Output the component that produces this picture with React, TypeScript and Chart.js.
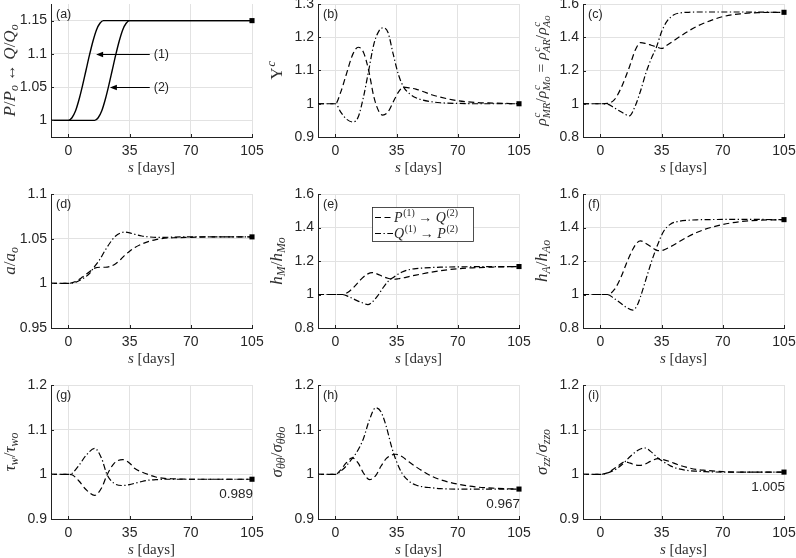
import React, { useEffect, useRef } from 'react';
import { Chart, registerables } from 'chart.js';
Chart.register(...registerables);

// ---------------- data ----------------
const xTicks = [0, 35, 70, 105];

// (a) load histories
const aDays1 = [-10, 0, 2, 4, 6, 8, 10, 12, 14, 16, 18, 20, 105];
const aLoad1 = [1, 1, 1.004, 1.014, 1.031, 1.052, 1.075, 1.098, 1.119, 1.136, 1.146, 1.15, 1.15];
const aDays2 = [-10, 15, 17, 19, 21, 23, 25, 27, 29, 31, 33, 35, 105];
const aLoad2 = [1, 1, 1.004, 1.014, 1.031, 1.052, 1.075, 1.098, 1.119, 1.136, 1.146, 1.15, 1.15];
const aArrowTip = [15.8, 23.7];
const aArrowVal = [1.1, 1.05];
const aArrowTail = 46.5;
const aArrowText = ['(1)', '(2)'];

// (b)
const bDays = [-10, 0, 3, 6, 10, 13, 16, 19, 22, 25, 27, 30, 33, 36, 39, 42, 46, 50, 55, 60, 70, 80, 90, 105];
const bPQ = [1, 1, 1.035, 1.085, 1.15, 1.17, 1.155, 1.1, 1.02, 0.975, 0.966, 0.975, 1.005, 1.035, 1.05, 1.048, 1.044, 1.037, 1.027, 1.02, 1.009, 1.004, 1.002, 1];
const bQP = [1, 1, 0.975, 0.955, 0.945, 0.96, 1.02, 1.1, 1.18, 1.22, 1.228, 1.215, 1.15, 1.088, 1.05, 1.032, 1.018, 1.011, 1.006, 1.003, 1.001, 1, 1, 1];

// (c)
const cDays = [-10, 0, 4, 8, 12, 16.5, 20, 23, 26, 29, 32, 35, 38, 42, 46, 50, 55, 60, 70, 80, 90, 105];
const cPQ = [1, 1, 1.002, 1.025, 1.1, 1.22, 1.325, 1.368, 1.362, 1.352, 1.342, 1.333, 1.352, 1.38, 1.408, 1.435, 1.465, 1.488, 1.524, 1.541, 1.548, 1.55];
const cQP = [1, 1, 0.998, 0.975, 0.95, 0.927, 0.99, 1.08, 1.185, 1.27, 1.34, 1.434, 1.495, 1.535, 1.547, 1.55, 1.552, 1.552, 1.552, 1.552, 1.551, 1.55];

// (d)
const dDays = [-10, 0, 4, 8, 12, 15, 18, 21, 24, 27, 30, 32, 35, 38, 42, 46, 50, 55, 60, 70, 80, 90, 105];
const dPQ = [1, 1, 1.002, 1.007, 1.013, 1.017, 1.018, 1.018, 1.019, 1.022, 1.027, 1.031, 1.036, 1.04, 1.044, 1.047, 1.049, 1.0505, 1.051, 1.0515, 1.052, 1.052, 1.052];
const dQP = [1, 1, 1.001, 1.005, 1.011, 1.019, 1.027, 1.037, 1.046, 1.053, 1.0565, 1.0575, 1.0565, 1.0548, 1.053, 1.052, 1.0515, 1.0515, 1.0518, 1.052, 1.052, 1.052, 1.052];

// (e)
const eDays = [-10, 0, 4, 8, 12, 15, 18.5, 21, 24, 27, 30, 33.5, 36, 39, 42, 46, 50, 55, 60, 70, 80, 90, 105];
const ePQ = [1, 1, 1, 1.02, 1.06, 1.095, 1.123, 1.131, 1.122, 1.108, 1.097, 1.091, 1.094, 1.1, 1.107, 1.116, 1.124, 1.134, 1.142, 1.154, 1.16, 1.164, 1.167];
const eQP = [1, 1, 1, 0.985, 0.965, 0.952, 0.94, 0.955, 0.99, 1.037, 1.077, 1.105, 1.123, 1.138, 1.148, 1.155, 1.158, 1.161, 1.163, 1.165, 1.166, 1.167, 1.167];

// (f)
const fDays = [-10, 0, 4, 8, 12, 15, 18.5, 21, 23, 26, 29, 31, 33, 36, 40, 45, 50, 55, 60, 70, 80, 90, 105];
const fPQ = [1, 1, 1, 1.03, 1.11, 1.19, 1.27, 1.31, 1.32, 1.305, 1.285, 1.27, 1.262, 1.265, 1.285, 1.315, 1.345, 1.37, 1.39, 1.418, 1.435, 1.443, 1.447];
const fQP = [1, 1, 1, 0.975, 0.945, 0.922, 0.907, 0.935, 0.99, 1.09, 1.19, 1.25, 1.305, 1.375, 1.42, 1.437, 1.443, 1.446, 1.447, 1.448, 1.448, 1.448, 1.447];

// (g)
const gDays = [-10, 0, 2, 6, 10, 15, 19, 22, 26, 31, 35, 38, 42, 46, 50, 55, 60, 70, 80, 90, 105];
const gPQ = [1, 1, 0.999, 0.985, 0.966, 0.953, 0.97, 0.998, 1.024, 1.033, 1.025, 1.013, 1.005, 0.999, 0.994, 0.991, 0.99, 0.989, 0.989, 0.989, 0.989];
const gQP = [1, 1, 1.002, 1.02, 1.042, 1.058, 1.035, 1.0, 0.98, 0.975, 0.977, 0.98, 0.984, 0.987, 0.988, 0.989, 0.989, 0.989, 0.989, 0.989, 0.989];

// (h)
const hDays = [-10, 0, 3, 6, 9.5, 13, 16, 19.5, 23, 26, 29, 32, 34.5, 38, 42, 46, 50, 55, 60, 70, 80, 90, 105];
const hPQ = [1, 1, 1.01, 1.025, 1.037, 1.025, 1.003, 0.988, 0.997, 1.018, 1.035, 1.043, 1.045, 1.04, 1.028, 1.017, 1.007, 0.996, 0.988, 0.978, 0.972, 0.969, 0.967];
const hQP = [1, 1, 1.007, 1.018, 1.035, 1.055, 1.08, 1.123, 1.149, 1.14, 1.108, 1.063, 1.033, 1.003, 0.985, 0.976, 0.972, 0.97, 0.968, 0.967, 0.967, 0.967, 0.967];

// (i)
const iDays = [-10, 0, 3, 6, 9.5, 14, 17, 20, 22.5, 25.5, 28.5, 33, 36, 40, 44, 49, 55, 60, 70, 80, 90, 105];
const iPQ = [1, 1, 1.002, 1.008, 1.017, 1.028, 1.025, 1.021, 1.02, 1.023, 1.029, 1.035, 1.033, 1.028, 1.022, 1.016, 1.011, 1.009, 1.006, 1.005, 1.005, 1.005];
const iQP = [1, 1, 1.002, 1.006, 1.013, 1.028, 1.04, 1.05, 1.056, 1.059, 1.052, 1.036, 1.028, 1.019, 1.013, 1.009, 1.007, 1.006, 1.005, 1.005, 1.005, 1.005];

const endValues = [1.15, 1, 1.55, 1.052, 1.167, 1.447, 0.989, 0.967, 1.005];
const endTexts = ['', '', '', '', '', '', '0.989', '0.967', '1.005'];
const panelTags = ['(a)', '(b)', '(c)', '(d)', '(e)', '(f)', '(g)', '(h)', '(i)'];
const yRanges: [number, number][] = [
  [0.975, 1.175], [0.9, 1.3], [0.8, 1.6],
  [0.95, 1.1], [0.8, 1.6], [0.8, 1.6],
  [0.9, 1.2], [0.9, 1.2], [0.9, 1.2],
];
const yTickSets = [
  [1, 1.05, 1.1, 1.15], [0.9, 1, 1.1, 1.2, 1.3], [0.8, 1, 1.2, 1.4, 1.6],
  [0.95, 1, 1.05, 1.1], [0.8, 1, 1.2, 1.4, 1.6], [0.8, 1, 1.2, 1.4, 1.6],
  [0.9, 1, 1.1, 1.2], [0.9, 1, 1.1, 1.2], [0.9, 1, 1.1, 1.2],
];

// ---------------- rich text ----------------
type Seg = { t: string; it?: boolean; sub?: string; sup?: string };
const SERIF = '"Liberation Serif", "DejaVu Serif", serif';
const SANS = '"Liberation Sans", Arial, Helvetica, sans-serif';
const TXT = '#262626';
const LBL = '#303030';
const letterRe = /[A-Za-z\u0370-\u03ff]/;

const yTitles: Seg[][] = [
  [{ t: 'P', it: true }, { t: '/' }, { t: 'P', it: true, sub: 'o' }, { t: ' \u2194 ' }, { t: 'Q', it: true }, { t: '/' }, { t: 'Q', it: true, sub: 'o' }],
  [{ t: '\u03a5', sup: 'c' }],
  [{ t: '\u03c1', it: true, sup: 'c', sub: 'MR' }, { t: '/' }, { t: '\u03c1', it: true, sup: 'c', sub: 'Mo' }, { t: ' = ' }, { t: '\u03c1', it: true, sup: 'c', sub: 'AR' }, { t: '/' }, { t: '\u03c1', it: true, sup: 'c', sub: 'Ao' }],
  [{ t: 'a', it: true }, { t: '/' }, { t: 'a', it: true, sub: 'o' }],
  [{ t: 'h', it: true, sub: 'M' }, { t: '/' }, { t: 'h', it: true, sub: 'Mo' }],
  [{ t: 'h', it: true, sub: 'A' }, { t: '/' }, { t: 'h', it: true, sub: 'Ao' }],
  [{ t: '\u03c4', it: true, sub: 'w' }, { t: '/' }, { t: '\u03c4', it: true, sub: 'wo' }],
  [{ t: '\u03c3', it: true, sub: '\u03b8\u03b8' }, { t: '/' }, { t: '\u03c3', it: true, sub: '\u03b8\u03b8o' }],
  [{ t: '\u03c3', it: true, sub: 'zz' }, { t: '/' }, { t: '\u03c3', it: true, sub: 'zzo' }],
];
const xTitle: Seg[] = [{ t: 's', it: true }, { t: ' [days]' }];
const legendTexts: Seg[][] = [
  [{ t: 'P', it: true, sup: '(1)' }, { t: ' \u2192 ' }, { t: 'Q', it: true, sup: '(2)' }],
  [{ t: 'Q', it: true, sup: '(1)' }, { t: ' \u2192 ' }, { t: 'P', it: true, sup: '(2)' }],
];

function fnt(size: number, it?: boolean) {
  return `${it ? 'italic ' : ''}${size}px ${SERIF}`;
}
function richWidth(ctx: CanvasRenderingContext2D, segs: Seg[], size: number) {
  let w = 0;
  for (const s of segs) {
    ctx.font = fnt(size, s.it);
    w += ctx.measureText(s.t).width;
    let ex = 0;
    if (s.sub) { ctx.font = fnt(size * 0.7, letterRe.test(s.sub)); ex = Math.max(ex, ctx.measureText(s.sub).width); }
    if (s.sup) { ctx.font = fnt(size * 0.7, letterRe.test(s.sup)); ex = Math.max(ex, ctx.measureText(s.sup).width + size * 0.05); }
    w += ex;
  }
  return w;
}
function drawRich(ctx: CanvasRenderingContext2D, segs: Seg[], x0: number, base: number, size: number) {
  let x = x0;
  ctx.textBaseline = 'alphabetic';
  ctx.textAlign = 'left';
  for (const s of segs) {
    ctx.font = fnt(size, s.it);
    ctx.fillText(s.t, x, base);
    x += ctx.measureText(s.t).width;
    let ex = 0;
    if (s.sub) {
      ctx.font = fnt(size * 0.7, letterRe.test(s.sub));
      ctx.fillText(s.sub, x, base + size * 0.22);
      ex = Math.max(ex, ctx.measureText(s.sub).width);
    }
    if (s.sup) {
      ctx.font = fnt(size * 0.7, letterRe.test(s.sup));
      ctx.fillText(s.sup, x + size * 0.05, base - size * 0.4);
      ex = Math.max(ex, ctx.measureText(s.sup).width + size * 0.05);
    }
    x += ex;
  }
}

// ---------------- layout ----------------
const PADL = 52, PADR = 16, PADT = 12, PADB = 46;
const COL_L = [51, 318, 583];
const ROW_T = [4, 194, 385];
const ROW_H = [133, 134, 134];
const PW = 201;
const YT_SIZES = [17, 17, 15.5, 17, 17, 17, 17, 17, 17];
const XT_SIZE = 15;

type Style = 'solid' | 'dash' | 'dashdot';
const dashOf = (s: Style) => (s === 'dash' ? [6, 3.5] : s === 'dashdot' ? [6, 2.5, 1.3, 2.5] : []);

function seriesFor(i: number): { x: number[]; y: number[]; style: Style }[] {
  switch (i) {
    case 0: return [{ x: aDays1, y: aLoad1, style: 'solid' }, { x: aDays2, y: aLoad2, style: 'solid' }];
    case 1: return [{ x: bDays, y: bPQ, style: 'dash' }, { x: bDays, y: bQP, style: 'dashdot' }];
    case 2: return [{ x: cDays, y: cPQ, style: 'dash' }, { x: cDays, y: cQP, style: 'dashdot' }];
    case 3: return [{ x: dDays, y: dPQ, style: 'dash' }, { x: dDays, y: dQP, style: 'dashdot' }];
    case 4: return [{ x: eDays, y: ePQ, style: 'dash' }, { x: eDays, y: eQP, style: 'dashdot' }];
    case 5: return [{ x: fDays, y: fPQ, style: 'dash' }, { x: fDays, y: fQP, style: 'dashdot' }];
    case 6: return [{ x: gDays, y: gPQ, style: 'dash' }, { x: gDays, y: gQP, style: 'dashdot' }];
    case 7: return [{ x: hDays, y: hPQ, style: 'dash' }, { x: hDays, y: hQP, style: 'dashdot' }];
    default: return [{ x: iDays, y: iPQ, style: 'dash' }, { x: iDays, y: iQP, style: 'dashdot' }];
  }
}

function makeOverlay(i: number) {
  return {
    id: 'overlay' + i,
    afterDraw(chart: any) {
      const ctx: CanvasRenderingContext2D = chart.ctx;
      const { left, right, top, bottom } = chart.chartArea;
      const xs = chart.scales.x, ys = chart.scales.y;
      ctx.save();
      // inward tick marks
      ctx.strokeStyle = '#222';
      ctx.lineWidth = 1;
      ctx.beginPath();
      for (const v of xTicks) {
        const px = Math.round(xs.getPixelForValue(v)) + 0.5;
        ctx.moveTo(px, bottom);
        ctx.lineTo(px, bottom - 3);
      }
      for (const v of yTickSets[i]) {
        const py = Math.round(ys.getPixelForValue(v)) + 0.5;
        ctx.moveTo(left, py);
        ctx.lineTo(left + 3, py);
      }
      ctx.stroke();
      ctx.fillStyle = LBL;
      // y title
      const ysz = YT_SIZES[i];
      const yt = yTitles[i];
      const w = richWidth(ctx, yt, ysz);
      ctx.save();
      ctx.translate(left - 42, (top + bottom) / 2);
      ctx.rotate(-Math.PI / 2);
      drawRich(ctx, yt, -w / 2, ysz * 0.33, ysz);
      ctx.restore();
      // x title
      const xw = richWidth(ctx, xTitle, XT_SIZE);
      drawRich(ctx, xTitle, (left + right) / 2 - xw / 2, bottom + 35, XT_SIZE);
      // panel tag
      ctx.fillStyle = TXT;
      ctx.font = `12.5px ${SANS}`;
      ctx.textAlign = 'left';
      ctx.textBaseline = 'middle';
      ctx.fillText(panelTags[i], left + 5, top + 11);
      // end text
      if (endTexts[i]) {
        ctx.font = `13.5px ${SANS}`;
        ctx.textAlign = 'right';
        ctx.textBaseline = 'middle';
        ctx.fillText(endTexts[i], xs.getPixelForValue(105) + 1, ys.getPixelForValue(endValues[i]) + 15);
      }
      // arrows in (a)
      if (i === 0) {
        ctx.strokeStyle = '#000';
        ctx.fillStyle = '#000';
        ctx.lineWidth = 1;
        for (let k = 0; k < aArrowTip.length; k++) {
          const tx = xs.getPixelForValue(aArrowTip[k]);
          const ty = Math.round(ys.getPixelForValue(aArrowVal[k])) + 0.5;
          const sx = xs.getPixelForValue(aArrowTail);
          ctx.beginPath();
          ctx.moveTo(sx, ty);
          ctx.lineTo(tx + 6, ty);
          ctx.stroke();
          ctx.beginPath();
          ctx.moveTo(tx, ty);
          ctx.lineTo(tx + 7, ty - 2.8);
          ctx.lineTo(tx + 7, ty + 2.8);
          ctx.closePath();
          ctx.fill();
          ctx.font = `12.5px ${SANS}`;
          ctx.textAlign = 'left';
          ctx.textBaseline = 'middle';
          ctx.fillStyle = TXT;
          ctx.fillText(aArrowText[k], sx + 4, ty);
          ctx.fillStyle = '#000';
        }
      }
      // legend in (e)
      if (i === 4) {
        const bx = Math.round(left + 54) + 0.5, by = Math.round(top + 13) + 0.5;
        ctx.fillStyle = '#fff';
        ctx.fillRect(bx, by, 101, 34);
        ctx.strokeStyle = '#222';
        ctx.lineWidth = 0.8;
        ctx.strokeRect(bx, by, 101, 34);
        const styles: Style[] = ['dash', 'dashdot'];
        for (let k = 0; k < 2; k++) {
          const ry = top + 23.5 + k * 16;
          ctx.strokeStyle = '#000';
          ctx.lineWidth = 1.2;
          ctx.setLineDash(dashOf(styles[k]));
          ctx.beginPath();
          ctx.moveTo(left + 57, ry);
          ctx.lineTo(left + 75, ry);
          ctx.stroke();
          ctx.setLineDash([]);
          ctx.fillStyle = TXT;
          drawRich(ctx, legendTexts[k], left + 76, ry + 4.5, 14);
        }
      }
      ctx.restore();
    },
  };
}

export default function App() {
  const refs = useRef<(HTMLCanvasElement | null)[]>([]);
  useEffect(() => {
    const charts: Chart[] = [];
    for (let i = 0; i < 9; i++) {
      const cv = refs.current[i];
      if (!cv) continue;
      const ser = seriesFor(i);
      const datasets: any[] = ser.map((s) => ({
        data: s.x.map((x, k) => ({ x, y: s.y[k] })),
        borderColor: '#000',
        borderWidth: s.style === 'solid' ? 1.4 : 1.2,
        borderDash: dashOf(s.style),
        borderCapStyle: 'butt',
        pointRadius: 0,
        fill: false,
        cubicInterpolationMode: 'monotone',
      }));
      datasets.push({
        data: [{ x: 105, y: endValues[i] }],
        showLine: false,
        pointStyle: 'rect',
        pointRadius: 3.6,
        backgroundColor: '#000',
        borderColor: '#000',
        borderWidth: 0,
        clip: false,
      });
      const [ymin, ymax] = yRanges[i];
      const yt = yTickSets[i];
      const chart = new Chart(cv, {
        type: 'line',
        data: { datasets },
        options: {
          animation: false,
          responsive: false,
          events: [],
          layout: { padding: { top: PADT, right: PADR, left: 0, bottom: 0 } },
          plugins: { legend: { display: false }, tooltip: { enabled: false } },
          scales: {
            x: {
              type: 'linear',
              min: -10,
              max: 105,
              afterBuildTicks: (s: any) => { s.ticks = xTicks.map((v) => ({ value: v })); },
              afterFit: (s: any) => { s.height = PADB; s.paddingLeft = 0; s.paddingRight = 0; },
              ticks: { autoSkip: false, maxRotation: 0, padding: 6, color: TXT, font: { family: SANS, size: 14 }, callback: (v: any) => String(v) },
              grid: { color: '#e2e2e2', lineWidth: 1, drawTicks: false },
              border: { display: true, color: '#222', width: 1 },
            },
            y: {
              type: 'linear',
              min: ymin,
              max: ymax,
              afterBuildTicks: (s: any) => { s.ticks = yt.map((v) => ({ value: v })); },
              afterFit: (s: any) => { s.width = PADL; s.paddingTop = 0; s.paddingBottom = 0; },
              ticks: { autoSkip: false, padding: 4, color: TXT, font: { family: SANS, size: 14 }, callback: (v: any) => String(v) },
              grid: { color: '#e2e2e2', lineWidth: 1, drawTicks: false },
              border: { display: true, color: '#222', width: 1 },
            },
          },
        } as any,
        plugins: [makeOverlay(i)],
      });
      charts.push(chart);
    }
    return () => charts.forEach((c) => c.destroy());
  }, []);

  const cells = [];
  for (let i = 0; i < 9; i++) {
    const col = i % 3, row = Math.floor(i / 3);
    const w = PW + PADL + PADR;
    const h = ROW_H[row] + PADT + PADB;
    cells.push(
      <canvas
        key={i}
        ref={(el) => { refs.current[i] = el; }}
        width={w}
        height={h}
        style={{ position: 'absolute', left: COL_L[col] - PADL, top: ROW_T[row] - PADT, width: w, height: h }}
      />
    );
  }
  return (
    <div style={{ position: 'fixed', left: 0, top: 0, width: 796, height: 558, background: '#fff', overflow: 'hidden' }}>
      {cells}
    </div>
  );
}
